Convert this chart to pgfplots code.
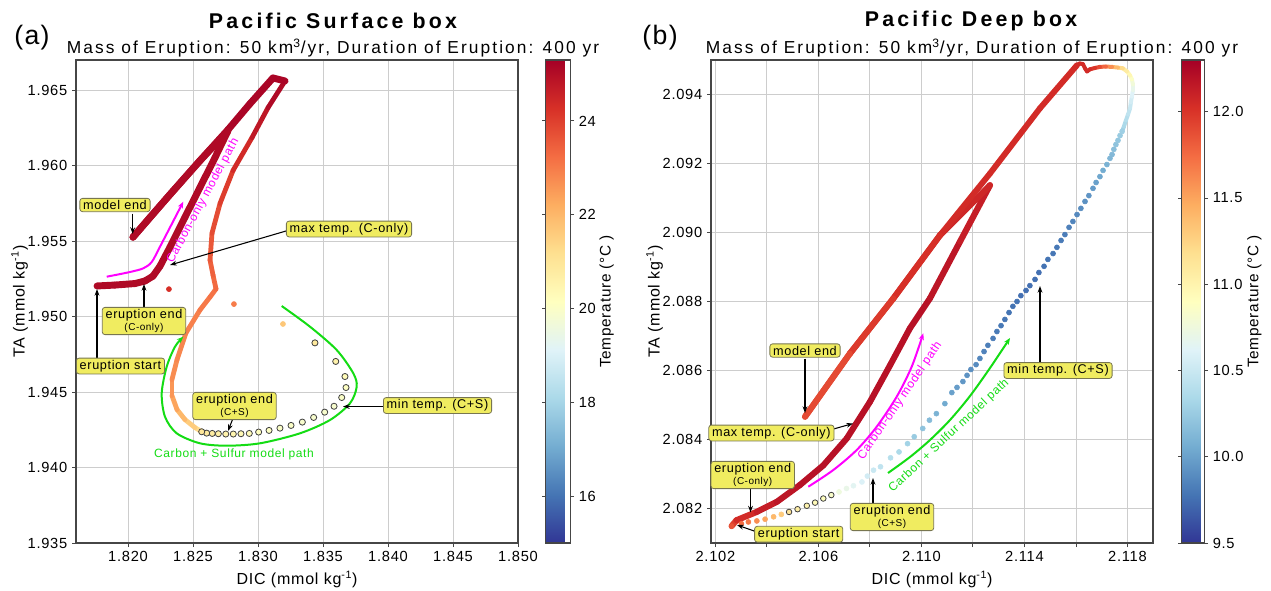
\documentclass[border=0pt]{standalone}
\usepackage{fontspec}
\setmainfont{Liberation Sans}[LetterSpace=5]
\newfontfamily\titlefont{Liberation Sans}[LetterSpace=15]
\newfontfamily\subfont{Liberation Sans}[LetterSpace=12]
\usepackage{pgfplots}
\pgfplotsset{compat=1.18}
\usetikzlibrary{arrows.meta}

\definecolor{annfill}{RGB}{240,236,96}
\definecolor{annedge}{RGB}{120,118,80}
\definecolor{gridc}{RGB}{205,205,205}
\definecolor{axc}{RGB}{70,70,70}
\definecolor{pathg}{RGB}{20,220,20}
\definecolor{pathm}{RGB}{255,0,255}

\pgfplotsset{
  colormap={rdylbu}{rgb255=(49,54,149) rgb255=(69,117,180) rgb255=(116,173,209)
    rgb255=(171,217,233) rgb255=(224,243,248) rgb255=(255,255,191) rgb255=(254,224,144)
    rgb255=(253,174,97) rgb255=(244,109,67) rgb255=(215,48,39) rgb255=(165,0,38)},
  panel/.style={
    scale only axis, width=331.5pt, height=362.25pt, anchor=north west,
    axis line style={axc, line width=0.8pt},
    grid style={gridc, line width=0.7pt},
    minor grid style={gridc, line width=0.7pt},
    tick pos=left, tick align=outside, major tick length=3pt, minor tick length=3pt,
    tick style={axc, line width=0.7pt},
    tick label style={font=\fontsize{11}{13}\selectfont},
    xticklabel={\pgfmathprintnumber[fixed,fixed zerofill,precision=3,assume math mode=true]{\tick}},
    yticklabel={\pgfmathprintnumber[fixed,fixed zerofill,precision=3,assume math mode=true]{\tick}},
    scaled ticks=false,
    label style={font=\fontsize{12}{14}\selectfont},
    xlabel={DIC (mmol kg\textsuperscript{-1})},
    ylabel={TA (mmol kg\textsuperscript{-1})},
    ylabel shift=-7pt,
    colormap name=rdylbu,
    colorbar,
  },
  cbar/.style={
    at={(parent axis.north east)}, anchor=north west,
    axis line style={axc, line width=0.8pt},
    tick align=outside, major tick length=2.5pt, tick style={axc, line width=0.7pt},
    tick label style={font=\fontsize{11}{13}\selectfont},
    ylabel={Temperature (°C )},
    ylabel style={font=\fontsize{11.5}{13}\selectfont},
    ylabel shift=-4pt,
  },
  thickpath/.style={mesh, point meta=explicit, line width=#1, line cap=round, line join=round},
  dots/.style={scatter, only marks, mark=*, mark size=#1, point meta=explicit,
    scatter/use mapped color={draw=mapped color, fill=mapped color}},
  rings/.style={scatter, only marks, mark=*, mark size=#1, point meta=explicit,
    scatter/use mapped color={draw=black!75, fill=mapped color}, line width=0.6pt},
}

\tikzset{
  ann/.style={draw=annedge, fill=annfill, rounded corners=2pt, line width=0.6pt,
    inner xsep=2.5pt, inner ysep=1.5pt, align=center, font=\fontsize{9.5}{10.5}\selectfont},
  arr/.style={-{Stealth[length=5pt,width=3.6pt]}, line width=0.8pt, black},
}
\newcommand{\sm}[1]{\\[-1.5pt]{\fontsize{7.5}{8}\selectfont #1}}

\begin{document}
\begin{tikzpicture}
\useasboundingbox (0pt,0pt) rectangle (953.25pt,-442.5pt);

% ---------------- (a) Pacific surface box ----------------
\begin{axis}[panel, at={(57pt,-45pt)},
  xmin=1.816, xmax=1.850, ymin=1.935, ymax=1.967,
  xtick={1.820,1.825,1.830,1.835,1.840,1.845,1.850},
  ytick={1.935,1.940,1.945,1.950,1.955,1.960,1.965},
  grid=major,
  point meta min=15.0, point meta max=25.3,
  colorbar style={cbar, xshift=12.25pt, width=18.75pt, ytick={16,18,20,22,24},
    yticklabel={\pgfmathprintnumber[fixed,precision=0,assume math mode=true]{\tick}}},
]
% carbon + sulfur, rising branch
\addplot[thickpath=3.6pt] table[x=x,y=y,meta=t] {
x y t
1.82567 1.94237 21.2
1.82515 1.94265 21.4
1.82438 1.94318 21.8
1.82377 1.94384 22.2
1.82338 1.94477 22.5
1.82338 1.94582 22.7
1.82377 1.94714 22.8
1.82446 1.94892 22.9
1.82554 1.95044 23.0
1.82631 1.95130 23.1
1.82677 1.95183 23.2
1.82654 1.95275 23.4
1.82631 1.95374 23.5
1.82646 1.95552 23.7
1.82708 1.95750 23.9
1.82808 1.95968 24.2
1.82954 1.96186 24.6
1.83077 1.96384 25.0
1.83208 1.96561 25.2
};
% carbon + sulfur, return to model end
\addplot[thickpath=5.2pt] table[x=x,y=y,meta=t] {
x y t
1.83208 1.96561 25.2
1.83115 1.96581 25.2
1.82938 1.96410 25.2
1.82769 1.96238 25.2
1.82554 1.96034 25.2
1.82323 1.95809 25.2
1.82038 1.95526 25.2
};
% carbon only
\addplot[thickpath=5.2pt] table[x=x,y=y,meta=t] {
x y t
1.81762 1.95203 25.1
1.81900 1.95209 25.1
1.82054 1.95219 25.1
1.82131 1.95236 25.1
1.82192 1.95268 25.1
1.82246 1.95334 25.1
1.82323 1.95460 25.1
1.82438 1.95658 25.1
1.82554 1.95856 25.1
1.82669 1.96053 25.1
1.82769 1.96231 25.1
1.82554 1.96033 25.1
1.82323 1.95809 25.1
1.82169 1.95657 25.1
1.82038 1.95526 25.1
};
\addplot[dots=1.9pt] table[x=x,y=y,meta=t] {
x y t
1.82315 1.95182 24.3
1.82815 1.95083 23.0
1.83192 1.94951 21.7
};
\addplot[rings=2.3pt] table[x=x,y=y,meta=t] {
x y t
1.83438 1.94826 20.9
1.83598 1.94703 20.6
1.83669 1.94603 20.3
1.83677 1.94530 20.1
1.83644 1.94464 20.0
1.83585 1.94406 19.9
1.83513 1.94367 19.9
1.83428 1.94332 19.9
1.83341 1.94301 19.9
1.83254 1.94279 20.0
1.83169 1.94261 20.0
1.83085 1.94246 20.1
1.83005 1.94235 20.2
1.82933 1.94226 20.3
1.82869 1.94224 20.4
1.82810 1.94222 20.5
1.82752 1.94222 20.6
1.82695 1.94224 20.7
1.82648 1.94226 20.8
1.82605 1.94228 20.9
1.82567 1.94237 21.0
};
\end{axis}

% ---------------- (b) Pacific deep box ----------------
\begin{axis}[panel, at={(533.25pt,-45pt)},
  xmin=2.10183, xmax=2.11899, ymin=2.081, ymax=2.095,
  xtick={2.102,2.106,2.110,2.114,2.118},
  minor xtick={2.104,2.108,2.112,2.116},
  ytick={2.082,2.084,2.086,2.088,2.090,2.092,2.094},
  grid=both,
  point meta min=9.5, point meta max=12.3,
  colorbar style={cbar, xshift=13pt, width=17.25pt, ytick={9.5,10,10.5,11,11.5,12},
    yticklabel={\pgfmathprintnumber[fixed,fixed zerofill,precision=1,assume math mode=true]{\tick}}},
]
% carbon only
\addplot[thickpath=4.6pt] table[x=x,y=y,meta=t] {
x y t
2.10263 2.08149 11.9
2.10282 2.08166 12.0
2.10360 2.08190 12.1
2.10438 2.08219 12.15
2.10528 2.08268 12.2
2.10619 2.08325 12.2
2.10710 2.08403 12.2
2.10800 2.08509 12.2
2.10878 2.08615 12.2
2.10955 2.08722 12.2
2.11033 2.08809 12.2
2.11150 2.08974 12.15
2.11266 2.09137 12.1
2.11072 2.08992 12.05
2.10891 2.08809 12.05
2.10722 2.08649 11.95
2.10548 2.08466 11.9
};
% carbon + sulfur, loop and return to model end
\addplot[thickpath=3pt] table[x=x,y=y,meta=t] {
x y t
2.11779 2.09293 10.28
2.11786 2.09307 10.32
2.11794 2.09325 10.37
2.11802 2.09342 10.42
2.11810 2.09360 10.47
2.11813 2.09377 10.52
2.11817 2.09394 10.58
2.11821 2.09412 10.65
2.11821 2.09429 10.73
2.11817 2.09444 10.82
2.11810 2.09455 10.92
2.11798 2.09467 11.02
2.11782 2.09476 11.12
2.11763 2.09478 11.3
2.11740 2.09480 11.5
2.11716 2.09481 11.7
2.11693 2.09480 11.85
2.11674 2.09477 11.95
2.11654 2.09473 12.05
2.11643 2.09467 12.05
2.11635 2.09476 12.05
2.11627 2.09488 12.05
2.11615 2.09490 12.05
2.11604 2.09485 12.05
};
\addplot[thickpath=4.4pt] table[x=x,y=y,meta=t] {
x y t
2.11604 2.09485 12.05
2.11460 2.09360 12.05
2.11266 2.09171 12.05
2.11072 2.08992 12.05
2.10891 2.08809 12.0
2.10722 2.08649 11.95
2.10548 2.08466 11.85
};
% carbon + sulfur, sparse points
\addplot[dots=1.9pt] table[x=x,y=y,meta=t] {
x y t
2.10263 2.08149 11.85
2.10301 2.08156 11.75
2.10328 2.08161 11.7
2.10361 2.08164 11.6
2.10393 2.08169 11.5
2.10426 2.08176 11.4
2.10456 2.08183 11.3
2.10680 2.08248 10.75
2.10709 2.08258 10.7
2.10736 2.08266 10.65
2.10769 2.08277 10.6
2.10790 2.08294 10.55
2.10814 2.08311 10.5
2.10841 2.08321 10.45
2.10880 2.08347 10.4
2.10913 2.08364 10.35
2.10946 2.08388 10.3
2.10972 2.08408 10.25
2.11005 2.08432 10.2
2.11031 2.08456 10.15
2.11058 2.08475 10.1
2.11091 2.08504 10.05
2.11118 2.08536 10.0
2.11138 2.08551 9.98
2.11161 2.08568 9.95
2.11177 2.08586 9.93
2.11192 2.08603 9.91
2.11212 2.08617 9.89
2.11227 2.08635 9.87
2.11243 2.08655 9.85
2.11258 2.08673 9.83
2.11278 2.08693 9.82
2.11293 2.08713 9.81
2.11309 2.08730 9.80
2.11324 2.08748 9.79
2.11340 2.08768 9.78
2.11355 2.08786 9.77
2.11371 2.08800 9.77
2.11386 2.08817 9.76
2.11406 2.08832 9.76
2.11421 2.08846 9.76
2.11441 2.08864 9.76
2.11456 2.08884 9.76
2.11476 2.08902 9.77
2.11491 2.08922 9.78
2.11511 2.08939 9.79
2.11526 2.08957 9.80
2.11542 2.08977 9.81
2.11557 2.08994 9.82
2.11573 2.09015 9.84
2.11588 2.09032 9.86
2.11604 2.09052 9.88
2.11619 2.09070 9.90
2.11635 2.09090 9.92
2.11650 2.09107 9.94
2.11666 2.09128 9.97
2.11678 2.09145 10.0
2.11693 2.09162 10.03
2.11705 2.09180 10.06
2.11720 2.09197 10.09
2.11732 2.09215 10.12
2.11740 2.09226 10.14
2.11747 2.09241 10.17
2.11755 2.09255 10.2
2.11763 2.09267 10.22
2.11771 2.09281 10.25
2.11779 2.09293 10.28
};
\addplot[rings=2.1pt] table[x=x,y=y,meta=t] {
x y t
2.10486 2.08190 11.15
2.10519 2.08198 11.05
2.10555 2.08208 11.0
2.10587 2.08217 10.95
2.10619 2.08229 10.9
2.10650 2.08239 10.85
};
\end{axis}

% ---------------- titles and annotations (pixel units) ----------------
\begin{scope}[x=0.75pt, y=-0.75pt]
\node[font=\fontsize{20}{22}\selectfont] at (32,38) {(a)};
\node[font=\fontsize{20}{22}\selectfont] at (660,38) {(b)};
\node[font={\titlefont\fontsize{16}{18}\selectfont\bfseries}] at (333,21) {Pacific Surface box};
\node[font={\titlefont\fontsize{16}{18}\selectfont\bfseries}] at (971,21) {Pacific Deep box};
\node[font={\subfont\fontsize{13}{15}\selectfont}] at (333,48) {Mass of Eruption: 50 km\textsuperscript{3}/yr, Duration of Eruption: 400 yr};
\node[font={\subfont\fontsize{13}{15}\selectfont}] at (972,48) {Mass of Eruption: 50 km\textsuperscript{3}/yr, Duration of Eruption: 400 yr};

% (a) model paths
\draw[pathm, line width=1.5pt, -{Stealth[length=5pt,width=4pt]}]
  plot[smooth] coordinates {(106.7,276.7) (130,272) (143.3,268.3) (151.7,262) (160,246.7) (183.3,201.7)};
\node[rotate=61.8, text=pathm, font=\fontsize{9}{10}\selectfont] at (203,201) {Carbon-only model path};
\draw[pathg, line width=1.5pt, -{Stealth[length=5pt,width=4pt]}]
  plot[smooth] coordinates {(281.7,306) (310,326.7) (336.7,350) (353.3,373.3) (356.7,386.7) (350,403.3)
  (330,420) (300,433.3) (260,443.3) (226.7,445.7) (200,443.3) (176.7,433.3) (165,416.7) (161.7,393.3)
  (166.7,366.7) (175,346.7) (183.3,336.7)};
\node[text=pathg, font=\fontsize{9}{10}\selectfont] at (234,454) {Carbon + Sulfur model path};

% (a) labels
\draw[arr] (132.7,213.5) -- (132.7,234);
\node[ann] at (115,205) {model end};
\draw[arr] (286,231) -- (170,265);
\node[ann] at (349,229) {max temp. (C-only)};
\draw[arr] (144,307.3) -- (144,284);
\node[ann] at (144,321) {eruption end\sm{(C-only)}};
\draw[arr] (97,359.3) -- (97,289);
\node[ann] at (120.5,366) {eruption start};
\draw[arr] (233,418.3) -- (228,431);
\node[ann] at (234.5,406) {eruption end\sm{(C+S)}};
\draw[arr] (383.3,406.5) -- (343,406.5);
\node[ann] at (437.5,405.5) {min temp. (C+S)};

% (b) model paths
\draw[pathm, line width=1.5pt, -{Stealth[length=5pt,width=4pt]}]
  plot[smooth] coordinates {(808.3,486.7) (833.3,470) (856.7,450) (876.7,426.7) (896.7,396.7) (911.7,366.7) (923.3,333.3)};
\node[rotate=55.7, text=pathm, font=\fontsize{9}{10}\selectfont] at (900,401) {Carbon-only model path};
\draw[pathg, line width=1.5pt, -{Stealth[length=5pt,width=4pt]}]
  plot[smooth] coordinates {(888,473) (910,457) (930,440) (950,420) (970,396) (990,368) (1010,338)};
\node[rotate=43.2, text=pathg, font=\fontsize{9}{10}\selectfont] at (949,436) {Carbon + Sulfur model path};

% (b) labels
\draw[arr] (805,358.5) -- (805,413);
\node[ann] at (805,350.5) {model end};
\draw[arr] (830,430) -- (853,423.5);
\node[ann] at (771.4,433) {max temp. (C-only)};
\draw[arr] (750.5,487) -- (750.5,512.5);
\node[ann] at (752.7,475) {eruption end\sm{(C-only)}};
\draw[arr] (757,532) -- (737,525);
\node[ann] at (798.7,534.2) {eruption start};
\draw[arr] (873,506) -- (873,478);
\node[ann] at (892,517) {eruption end\sm{(C+S)}};
\draw[arr] (1040,362.5) -- (1040,286);
\node[ann] at (1058,370.5) {min temp. (C+S)};
\end{scope}
\end{tikzpicture}
\end{document}
